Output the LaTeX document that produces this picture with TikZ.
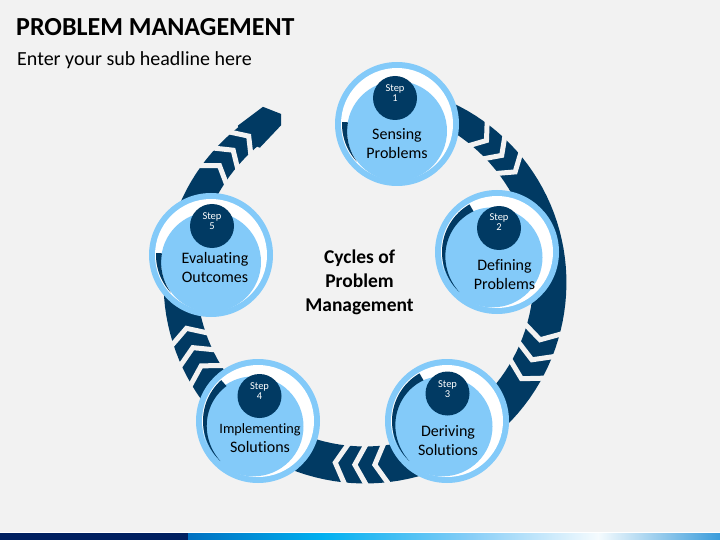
\documentclass[tikz,border=0pt]{standalone}
\usepackage{fontspec}
\setmainfont{Carlito}[Ligatures=NoCommon]
\definecolor{bgc}{HTML}{F2F2F2}
\definecolor{navyc}{HTML}{013A63}
\definecolor{lightc}{HTML}{83CAF9}
\definecolor{barA}{HTML}{002060}
\definecolor{barB}{HTML}{0070C0}
\definecolor{barC}{HTML}{00B0F0}
\definecolor{barD}{HTML}{85CDF7}
\definecolor{barE}{HTML}{F5FBFE}
\definecolor{barF}{HTML}{3A9CDB}
\newcommand{\stepdisk}[6]{%
\begin{scope}[shift={(#1,#2)}]
\fill[lightc] (0,0) circle[radius=62];
\fill[white] (0,0) circle[radius=56];
\fill[lightc] (#3:7) circle[radius=50];
\fill[navyc] plot[domain=#5:#4,samples=40] (\x:55) -- plot[domain=#4:#5,samples=40] (\x:{55-#6*(\x-#5)/(#4-#5)}) -- cycle;
\end{scope}}
\begin{document}
\begin{tikzpicture}[x=1pt,y=-1pt,
  declare function={bw(\t)=37-10*((\t-90)/140)*((\t-90)/140);},
  gapline/.style={draw=bgc,line width=5pt,line join=miter,line cap=butt},
  stepdot/.style={circle,fill=navyc,minimum size=44pt,inner sep=0pt},
  steptxt/.style={text=white,align=center,font=\fontsize{10.5}{10}\selectfont,inner sep=0pt},
  labeltxt/.style={align=center,font=\fontsize{16}{19}\selectfont,inner sep=0pt}]
\useasboundingbox (0,0) rectangle (720,540);
\fill[bgc] (0,0) rectangle (720,540);
% titles
\node[anchor=base west,inner sep=0pt,font=\bfseries\fontsize{26}{28}\selectfont] (title) at (16,36) {PROBLEM MANAGEMENT};
\node[anchor=base west,inner sep=0pt,font=\fontsize{20}{22}\selectfont] (sub) at (17,65.5) {Enter your sub headline here};
% cycle band
\begin{scope}[shift={(365,280)}]
\fill[navyc] plot[domain=-80:233,samples=120] (\x:{185+0.5*bw(\x)}) -- plot[domain=233:-80,samples=120] (\x:{185-0.5*bw(\x)}) -- cycle;
\fill[navyc] (230.5:200) -- (239.5:201) -- (243.2:186) -- (241.5:176) -- (231.5:169) -- (229:185) -- cycle;
\foreach \g in {-50.5,-43.9,-37.3,17.3,24,30.7,85.4,91.6,97.7,150.8,157,163.3,216.6,223,229.5}{
  \pgfmathsetmacro\hh{0.5*bw(\g)+4}
  \draw[gapline] ({\g-2.35}:{185+\hh}) -- ({\g+1.55}:185) -- ({\g-2.35}:{185-\hh});
}
\end{scope}
% step circles
\stepdisk{397}{124}{90}{182}{137}{6}
\stepdisk{497}{252}{130}{240}{133}{8}
\stepdisk{447}{421}{130}{240}{133}{8}
\stepdisk{258}{421}{130}{228}{133}{8}
\stepdisk{211}{255}{90}{182}{137}{6}
\node[stepdot] (d1) at (395,98) {};
\node[steptxt] (s1) at (395,93) {Step\\1};
\node[labeltxt] (l1) at (397,143.5) {Sensing\\Problems};
\node[stepdot] (d2) at (499,228) {};
\node[steptxt] (s2) at (499,222) {Step\\2};
\node[labeltxt] (l2) at (504.5,275) {Defining\\Problems};
\node[stepdot] (d3) at (447.5,393.5) {};
\node[steptxt] (s3) at (447.5,389) {Step\\3};
\node[labeltxt] (l3) at (448,441) {Deriving\\Solutions};
\node[stepdot] (d4) at (259.5,396) {};
\node[steptxt] (s4) at (259.5,391) {Step\\4};
\node[labeltxt] (l4) at (260,438) {{\fontsize{14.3}{19}\selectfont Implementing}\\Solutions};
\node[stepdot] (d5) at (212,226) {};
\node[steptxt] (s5) at (212,221) {Step\\5};
\node[labeltxt] (l5) at (215,268) {Evaluating\\Outcomes};
% centre text
\node[align=center,inner sep=0pt,font=\bfseries\fontsize{19.5}{24}\selectfont] (ctr) at (359.5,282) {Cycles of\\Problem\\Management};
% bottom bar
\fill[white] (0,531.5) rectangle (720,533);
\fill[barA] (0,533) rectangle (188.5,540);
\shade[left color=barB,right color=barC] (188,533) rectangle (322.5,540);
\shade[left color=barC,right color=barD] (322,533) rectangle (468.5,540);
\shade[left color=barD,right color=barE] (468,533) rectangle (598.5,540);
\shade[left color=barE,right color=barF] (598,533) rectangle (720,540);
\end{tikzpicture}
\end{document}
